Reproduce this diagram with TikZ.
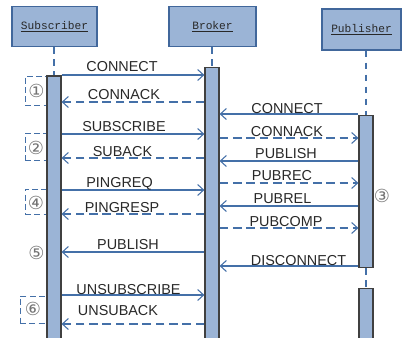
\documentclass[tikz,border=0pt]{standalone}
\usepackage{fontspec}
\setmainfont{Liberation Sans}
\newfontfamily\circfont{DejaVu Sans}
\newfontfamily\headfont{Liberation Mono}
\usetikzlibrary{arrows.meta}
\definecolor{boxfill}{HTML}{9BB4D6}
\definecolor{boxline}{HTML}{41679B}
\definecolor{arrowc}{HTML}{4470A8}
\definecolor{txt}{HTML}{282828}
\begin{document}
\begin{tikzpicture}[x=0.75pt,y=-0.75pt,
 head/.style={draw=boxline, fill=boxfill, line width=1pt, inner sep=0, font=\headfont\fontsize{8.4}{9}\selectfont, text=txt},
 bar/.style={draw=black!75, fill=boxfill, line width=0.9pt, inner sep=0, minimum width=14*0.75pt, anchor=north},
 msg/.style={draw=arrowc, line width=0.8pt, -{Straight Barb[length=4.5pt, width=8.25pt]}},
 reply/.style={msg, dash pattern=on 6.5pt off 3.5pt},
 lbl/.style={font=\fontsize{10.8}{12}\selectfont, text=txt, anchor=base, inner sep=0},
 life/.style={draw=arrowc, line width=0.8pt, dash pattern=on 5pt off 4pt},
 grp/.style={draw=arrowc, line width=0.7pt, dash pattern=on 4.5pt off 2.5pt},
 num/.style={font=\circfont\fontsize{13.5}{14}\selectfont, text=black!55, inner sep=0}]
\useasboundingbox (0,0) rectangle (403,338);

% header boxes
\node[head, minimum width=85*0.75pt, minimum height=40*0.75pt] (sub) at (54.5,26.5) {\underline{Subscriber}};
\node[head, minimum width=87*0.75pt, minimum height=40*0.75pt] (brk) at (212.5,26.5) {\underline{Broker}};
\node[head, minimum width=79*0.75pt, minimum height=41*0.75pt] (pub) at (361.5,29.5) {\underline{Publisher}};

% group boxes
\node[grp, draw, minimum width=22*0.75pt, minimum height=29*0.75pt, inner sep=0] (g1) at (36,90.5) {};
\node[grp, draw, minimum width=22*0.75pt, minimum height=27*0.75pt, inner sep=0] (g2) at (36,146.5) {};
\node[grp, draw, minimum width=22*0.75pt, minimum height=25*0.75pt, inner sep=0] (g4) at (36,201.5) {};
\node[grp, draw, minimum width=27*0.75pt, minimum height=27*0.75pt, inner sep=0] (g6) at (33.5,309.5) {};

% activation bars
\node[bar, minimum height=270*0.75pt] (sbar) at (54,75.5) {};
\node[bar, minimum height=280*0.75pt] (bbar) at (212,67) {};
\node[bar, minimum height=152*0.75pt] (pbar1) at (366,115) {};
\node[bar, minimum height=60*0.75pt] (pbar2) at (366,288) {};

% lifelines
\draw[life] (sbar.north |- sub.south) -- (sbar.north);
\draw[life] (bbar.north |- brk.south) -- (bbar.north);
\draw[life] (pbar1.north |- pub.south) -- (pbar1.north);
\draw[life] (pbar1.south) -- (pbar2.north);

% circled numbers
\node[num] (n1) at (36.5,90.5) {①};
\node[num] (n2) at (36,147.5) {②};
\node[num] (n3) at (382,195.5) {③};
\node[num] (n4) at (36,202.5) {④};
\node[num] (n5) at (36.5,253) {⑤};
\node[num] (n6) at (33,308.5) {⑥};

% subscriber <-> broker
\draw[msg] (sbar.east |- 0,75) -- (bbar.west |- 0,75);
\node[lbl] (l1) at (122,72) {CONNECT};
\draw[reply] (bbar.west |- 0,102) -- (sbar.east |- 0,102);
\node[lbl] (l2) at (124,100) {CONNACK};
\draw[msg] (sbar.east |- 0,134) -- (bbar.west |- 0,134);
\node[lbl] (l3) at (124,132) {SUBSCRIBE};
\draw[reply] (bbar.west |- 0,158) -- (sbar.east |- 0,158);
\node[lbl] (l4) at (122.5,157) {SUBACK};
\draw[msg] (sbar.east |- 0,190) -- (bbar.west |- 0,190);
\node[lbl] (l5) at (119.5,188) {PINGREQ};
\draw[reply] (bbar.west |- 0,214) -- (sbar.east |- 0,214);
\node[lbl] (l6) at (122,213) {PINGRESP};
\draw[msg] (bbar.west |- 0,252) -- (sbar.east |- 0,252);
\node[lbl] (l7) at (128,249) {PUBLISH};
\draw[msg] (sbar.east |- 0,295) -- (bbar.west |- 0,295);
\node[lbl] (l8) at (128.5,294) {UNSUBSCRIBE};
\draw[reply] (bbar.west |- 0,324) -- (sbar.east |- 0,324);
\node[lbl] (l9) at (118,315) {UNSUBACK};

% publisher <-> broker
\draw[msg] (pbar1.west |- 0,114) -- (bbar.east |- 0,114);
\node[lbl] (r1) at (287,114) {CONNECT};
\draw[reply] (bbar.east |- 0,138) -- (pbar1.west |- 0,138);
\node[lbl] (r2) at (287,137) {CONNACK};
\draw[msg] (pbar1.west |- 0,161) -- (bbar.east |- 0,161);
\node[lbl] (r3) at (286,159) {PUBLISH};
\draw[reply] (bbar.east |- 0,183) -- (pbar1.west |- 0,183);
\node[lbl] (r4) at (282,181) {PUBREC};
\draw[msg] (pbar1.west |- 0,206) -- (bbar.east |- 0,206);
\node[lbl] (r5) at (282.5,204) {PUBREL};
\draw[reply] (bbar.east |- 0,228) -- (pbar1.west |- 0,228);
\node[lbl] (r6) at (286,227) {PUBCOMP};
\draw[msg] (pbar1.west |- 0,266) -- (bbar.east |- 0,266);
\node[lbl] (r7) at (298.5,265) {DISCONNECT};
\end{tikzpicture}
\end{document}
